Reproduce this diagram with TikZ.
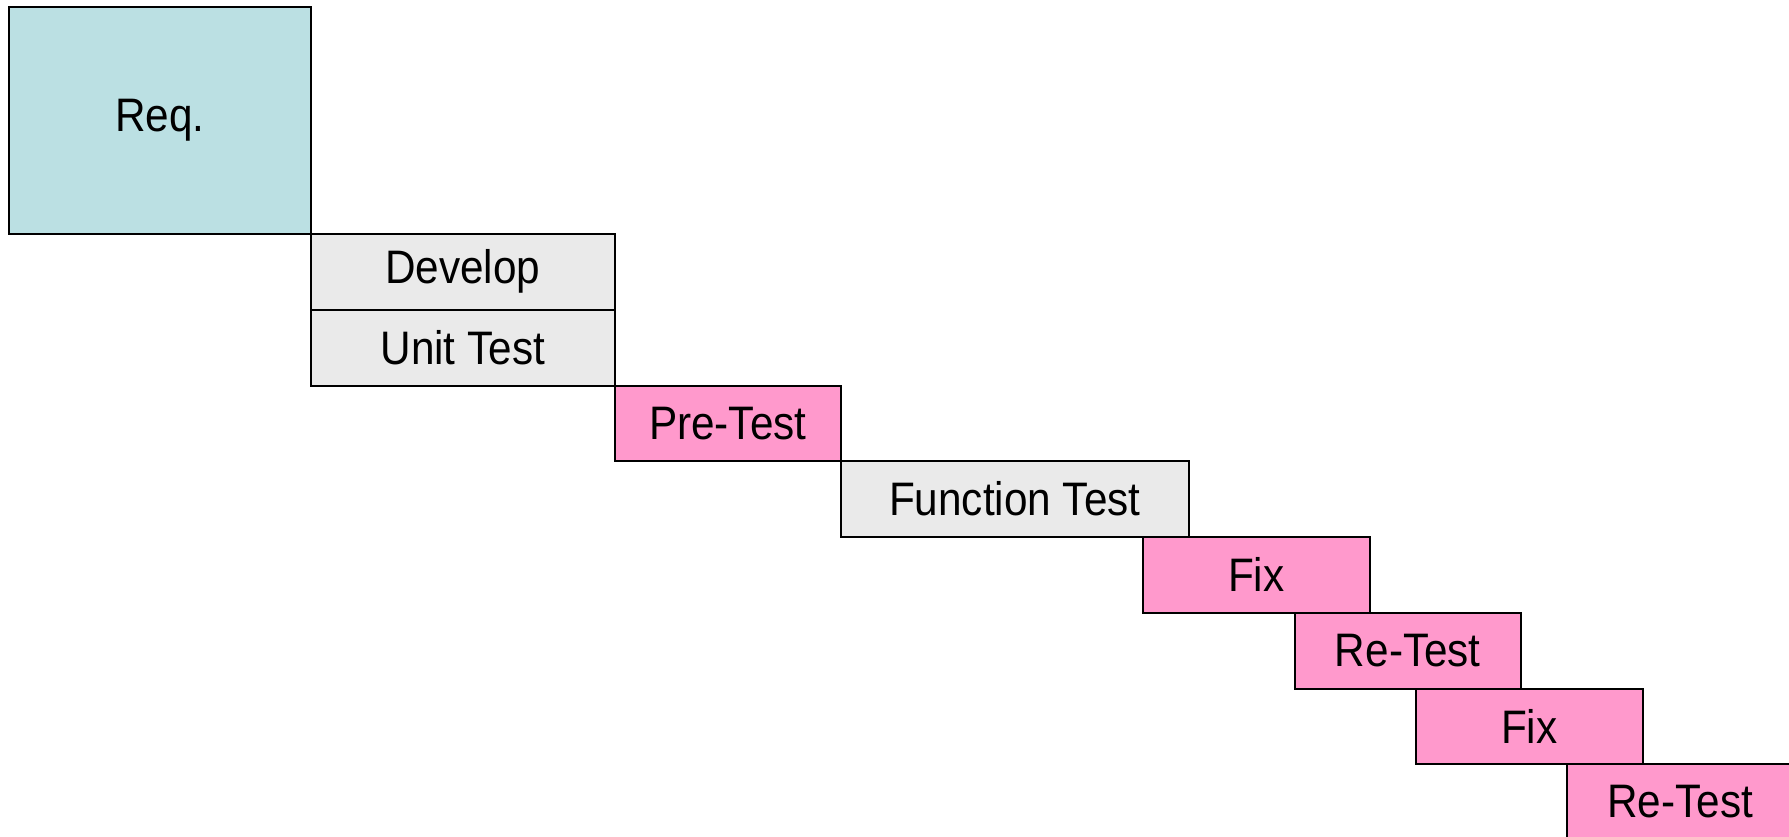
\documentclass[tikz,border=0pt]{standalone}
\usepackage{fontspec}
\setmainfont[FakeStretch=0.9]{Liberation Sans}
\definecolor{reqfill}{HTML}{BBE0E3}
\definecolor{grayfill}{HTML}{EAEAEA}
\definecolor{pinkfill}{HTML}{FF99CC}
\tikzset{
  box/.style={draw=black, line width=1.6pt, anchor=north west, inner sep=0pt,
    font=\fontsize{47}{56}\selectfont},
  reqbox/.style={box, fill=reqfill},
  graybox/.style={box, fill=grayfill},
  pinkbox/.style={box, fill=pinkfill},
}
\begin{document}
\begin{tikzpicture}[x=1pt,y=-1pt]
\useasboundingbox (0,0) rectangle (1789,837);
\clip (0,0) rectangle (1789,837);
\node[reqbox, minimum width=302pt, minimum height=227pt] (req) at (8,6) {Req.};
\node[graybox, minimum width=304pt, minimum height=76pt] (dev) at (310,233) {Develop};
\node[graybox, minimum width=304pt, minimum height=76pt] (unit) at (310,309) {Unit Test};
\node[pinkbox, minimum width=226pt, minimum height=75pt] (pre) at (614,385) {Pre-Test};
\node[graybox, minimum width=348pt, minimum height=76pt] (func) at (840,460) {Function Test};
\node[pinkbox, minimum width=227pt, minimum height=76pt] (fix1) at (1142,536) {Fix};
\node[pinkbox, minimum width=226pt, minimum height=76pt] (re1) at (1294,612) {Re-Test};
\node[pinkbox, minimum width=227pt, minimum height=75pt] (fix2) at (1415,688) {Fix};
\node[pinkbox, minimum width=227pt, minimum height=76pt] (re2) at (1566,763) {Re-Test};
\end{tikzpicture}
\end{document}
